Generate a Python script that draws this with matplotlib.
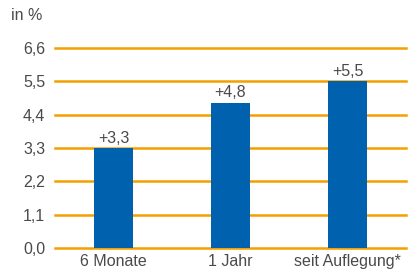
import matplotlib
matplotlib.use("Agg")
import matplotlib.pyplot as plt

categories = ["6 Monate", "1 Jahr", "seit Auflegung*"]
values = [3.3, 4.8, 5.5]
value_labels = ["+3,3", "+4,8", "+5,5"]
yticks = [0.0, 1.1, 2.2, 3.3, 4.4, 5.5, 6.6]
ytick_labels = ["0,0", "1,1", "2,2", "3,3", "4,4", "5,5", "6,6"]

plt.rcParams['font.family'] = ['Liberation Sans', 'DejaVu Sans']
text_color = "#4a4a4a"
orange = "#F5A000"
blue = "#0061AF"
fs = 11.5

fig = plt.figure(figsize=(4.09, 2.75), dpi=100)
ax = fig.add_axes([55/409, 27/275, 351/409, 200/275])

x = list(range(len(categories)))
for yv in yticks:
    ax.axhline(yv, color=orange, lw=1.8, zorder=1, clip_on=False)
ax.bar(x, values, width=0.325, color=blue, zorder=2)
for xi, v, lab in zip(x, values, value_labels):
    ax.text(xi, v + 0.08, lab, ha="center", va="bottom", fontsize=fs, color=text_color)

ax.set_xlim(-0.5, 2.5)
ax.set_ylim(0, 6.6)
ax.set_yticks(yticks)
ax.set_yticklabels(ytick_labels)
ax.set_xticks(x)
ax.set_xticklabels(categories)
ax.tick_params(axis="both", length=0, labelsize=fs, colors=text_color)
ax.tick_params(axis="y", pad=7)
ax.tick_params(axis="x", pad=4)
for s in ax.spines.values():
    s.set_visible(False)

fig.text(11/409, 1 - 16/275, "in %", ha="left", va="center", fontsize=fs, color=text_color)

fig.savefig("out.png", dpi=100)
